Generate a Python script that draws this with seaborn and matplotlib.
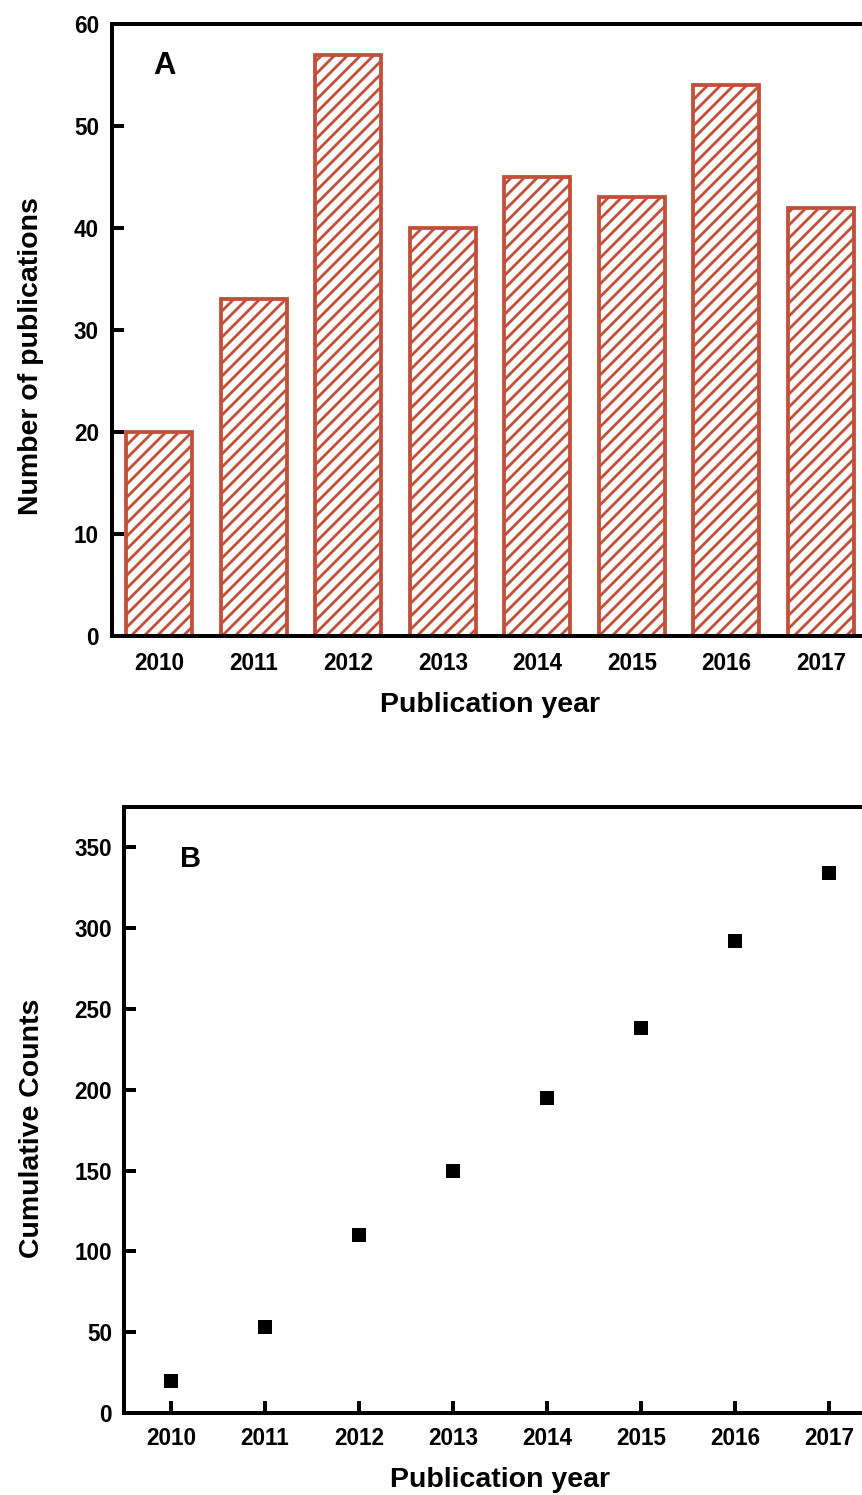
import matplotlib
matplotlib.use("Agg")
import matplotlib.pyplot as plt
import seaborn as sns
import numpy as np

# ---- data ----
years = [2010, 2011, 2012, 2013, 2014, 2015, 2016, 2017]
year_labels = [str(y) for y in years]
publications = [20, 33, 57, 40, 45, 43, 54, 42]
cumulative = [20, 53, 110, 150, 195, 238, 292, 334]
yticks_a = [0, 10, 20, 30, 40, 50, 60]
yticks_b = [0, 50, 100, 150, 200, 250, 300, 350]

DPI = 78
PT = 72.0 / DPI  # pixels -> points
RED = "#C0503A"

sns.set_theme(style="white")
plt.rcParams["font.family"] = ["Liberation Sans", "DejaVu Sans"]
plt.rcParams["hatch.color"] = RED
plt.rcParams["hatch.linewidth"] = 2.8 * PT
plt.rcParams["text.color"] = "black"
plt.rcParams["axes.labelcolor"] = "black"
plt.rcParams["xtick.color"] = "black"
plt.rcParams["ytick.color"] = "black"

fig = plt.figure(figsize=(862 / DPI, 1495 / DPI), dpi=DPI)
W, H = 862.0, 1495.0

def add_ax(left, right, top, bottom):
    return fig.add_axes([left / W, (H - bottom) / H, (right - left) / W, (bottom - top) / H])

tick_fs = 22.5 * PT
label_fs = 28.5 * PT
spine_w = 4 * PT

# ---- Panel A ----
axA = add_ax(112, 868, 24, 636)
sns.barplot(x=year_labels, y=publications, color="white", edgecolor=RED,
            linewidth=3.8 * PT, width=0.70, saturation=1, ax=axA)
for p in axA.patches:
    p.set_hatch("//")
    p.set_facecolor("white")
axA.set_xlim(-0.5, 7.5)
axA.set_ylim(0, 60)
axA.set_yticks(yticks_a)
axA.tick_params(axis="y", direction="in", length=12 * PT, width=spine_w,
                labelsize=tick_fs, pad=13 * PT, left=True)
axA.tick_params(axis="x", length=0, labelsize=tick_fs, pad=16 * PT)
for lbl in axA.get_xticklabels() + axA.get_yticklabels():
    lbl.set_fontweight("bold")
axA.set_xlabel("Publication year", fontsize=label_fs, fontweight="bold", va="center")
axA.set_ylabel("Number of publications", fontsize=label_fs, fontweight="bold", va="center")
axA.xaxis.set_label_coords(0.5, (636 - 705) / 612)
axA.yaxis.set_label_coords((31 - 112) / 756, 0.458)
for s in axA.spines.values():
    s.set_linewidth(spine_w)
    s.set_color("black")
axA.text((153 - 112) / 756, (636 - 74) / 612, "A", transform=axA.transAxes,
         fontsize=31 * PT, fontweight="bold", ha="left", va="baseline")

# ---- Panel B ----
axB = add_ax(124, 876, 807, 1413)
sns.scatterplot(x=years, y=cumulative, marker="s", s=(14 * PT) ** 2,
                color="black", edgecolor="none", linewidth=0, ax=axB, zorder=3)
axB.set_xlim(2009.5, 2017.5)
axB.set_ylim(0, 375)
axB.set_xticks(years)
axB.set_xticklabels(year_labels)
axB.set_yticks(yticks_b)
axB.tick_params(axis="both", direction="in", length=12 * PT, width=spine_w,
                labelsize=tick_fs, bottom=True, left=True)
axB.tick_params(axis="x", pad=14 * PT)
axB.tick_params(axis="y", pad=12 * PT)
for lbl in axB.get_xticklabels() + axB.get_yticklabels():
    lbl.set_fontweight("bold")
axB.set_xlabel("Publication year", fontsize=label_fs, fontweight="bold", va="center")
axB.set_ylabel("Cumulative Counts", fontsize=label_fs, fontweight="bold", va="center")
axB.xaxis.set_label_coords(0.5, (1413 - 1480) / 606)
axB.yaxis.set_label_coords((32 - 124) / 752, 0.469)
for s in axB.spines.values():
    s.set_linewidth(spine_w)
    s.set_color("black")
axB.text((180 - 124) / 752, (1413 - 867) / 606, "B", transform=axB.transAxes,
         fontsize=29 * PT, fontweight="bold", ha="left", va="baseline")

fig.savefig("out.png", dpi=DPI)
